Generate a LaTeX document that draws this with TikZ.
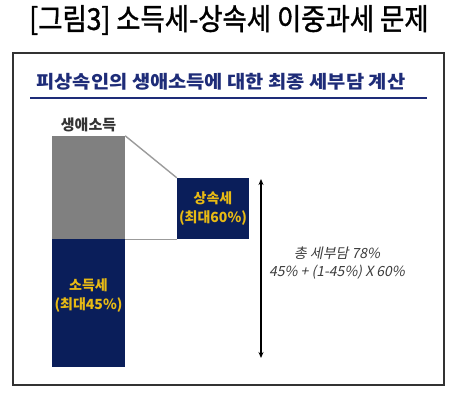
\documentclass[tikz,border=0pt]{standalone}
\usepackage{fontspec}
\usepackage{xcolor}
\usetikzlibrary{arrows.meta,positioning,calc}
\newfontfamily\krfont{Noto Sans CJK KR}
\newfontfamily\krhead[FakeStretch=1.1]{Noto Sans CJK KR}
\newfontfamily\krtitle[FakeStretch=0.88,FakeBold=1.2]{Noto Sans CJK KR}
\newfontfamily\krslant[FakeSlant=0.2]{Noto Sans CJK KR}
\definecolor{TaxNavy}{RGB}{10,30,90}
\definecolor{TaxHead}{RGB}{30,44,120}
\definecolor{TaxGold}{RGB}{232,186,20}
\definecolor{TaxGray}{RGB}{128,128,128}
\definecolor{TaxLine}{RGB}{155,155,155}
\definecolor{TaxFrame}{RGB}{50,50,50}
\definecolor{TaxText}{RGB}{60,60,60}

\begin{document}
\begin{tikzpicture}[
    x=1pt, y=-1pt,
    bar/.style={draw=none, inner sep=0pt, minimum width=73pt},
    navybox/.style={fill=TaxNavy, inner sep=0pt, align=center, text=TaxGold, font=\krfont\bfseries\fontsize{14}{19}\selectfont},
    linkline/.style={draw=TaxLine, line width=1.4pt},
    dimarrow/.style={{Stealth[length=6pt,width=5pt]}-{Stealth[length=6pt,width=5pt]}, line width=1.2pt, draw=black},
    note/.style={text=TaxText, font=\krslant\fontsize{14}{19}\selectfont}
  ]
    \useasboundingbox (0,0) rectangle (458,392);
    \node[font=\krtitle\fontsize{30}{34}\selectfont] (title) at (229,20) {[그림3]\ 소득세-상속세 이중과세 문제};
    \draw[TaxFrame, line width=1.2pt] (13,53) rectangle (444,385);
    \node[anchor=west, text=TaxHead, font=\krhead\bfseries\fontsize{18}{22}\selectfont] (head) at (33,82) {피상속인의 생애소득에 대한 최종 세부담 계산};
    \coordinate (ulstart) at (30,98);
    \coordinate (ulend) at (427,98);
    \draw[TaxHead, line width=2pt] (ulstart) -- (ulend);

    % bars
    \node[font=\krfont\bfseries\fontsize{15}{18}\selectfont, text=black!80] (lifelbl) at (88.5,125) {생애소득};
    \node[bar, fill=TaxGray, minimum height=103pt] (lifeinc) at (88.5,187.5) {};
    \node[bar, navybox, minimum width=73pt, minimum height=128pt] (inctax) at (88.5,303) {};
    \node[navybox] (inclbl) at ($(inctax.center)+(0,-7.5)$) {소득세\\(최대45\%)};
    \node[navybox, minimum width=72pt, minimum height=61pt] (inhtax) at (213,208.5) {상속세\\(최대60\%)};
    \draw[linkline] (lifeinc.north east) -- (inhtax.north west);
    \draw[linkline] (lifeinc.south east) -- (inhtax.south west);

    % total burden
    \coordinate (ttop) at (261,179);
    \coordinate (tbot) at (261,358);
    \draw[dimarrow] (ttop) -- (tbot);
    \node[note] (total) at (337,253) {총 세부담 78\%};
    \node[note] (formula) at (337,272) {45\% + (1-45\%) X 60\%};
  \end{tikzpicture}
\end{document}
